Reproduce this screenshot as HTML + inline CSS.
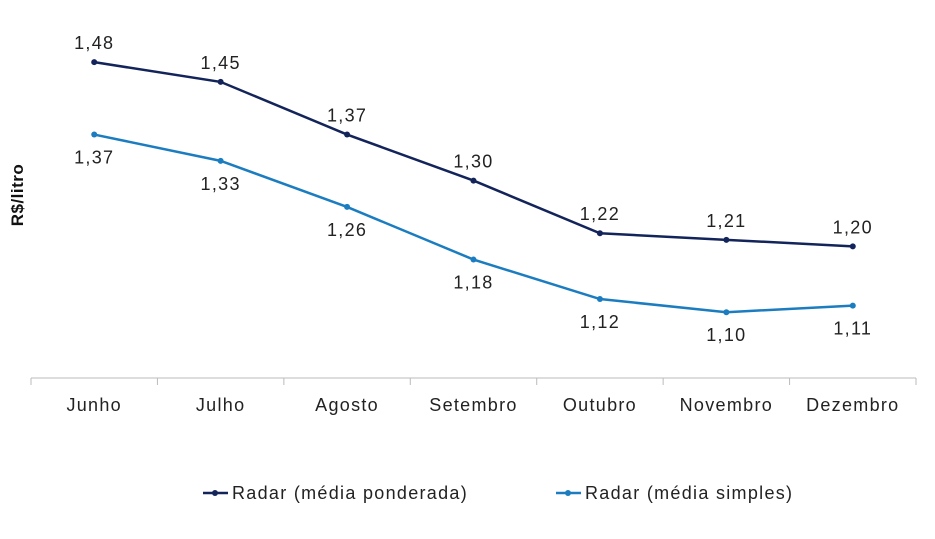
<!DOCTYPE html>
<html><head><meta charset="utf-8"><style>
html,body{margin:0;padding:0;background:#fff;}
svg{display:block;font-family:"Liberation Sans",sans-serif;}
svg text{letter-spacing:1.3px;}
</style></head><body>
<svg id="chart" width="935" height="539">
<text transform="translate(23,195) rotate(-90)" text-anchor="middle" font-size="17" font-weight="bold" fill="#111" style="letter-spacing:0.5px">R$/litro</text>
<g id="axis"></g><g id="series"></g>
<g>
<g>
<line x1="203" y1="493" x2="228" y2="493" stroke="#13245a" stroke-width="2.5"/><circle cx="215" cy="493" r="3" fill="#13245a"/>
<text x="232" y="499" font-size="18" fill="#222">Radar (média ponderada)</text></g>
<g>
<line x1="556" y1="493" x2="581" y2="493" stroke="#1b7dc0" stroke-width="2.5"/><circle cx="568" cy="493" r="3" fill="#1b7dc0"/>
<text x="585" y="499" font-size="18" fill="#222">Radar (média simples)</text></g>
</g>
</svg>
<script>
const categories=["Junho","Julho","Agosto","Setembro","Outubro","Novembro","Dezembro"];
const ponderada=[1.48,1.45,1.37,1.30,1.22,1.21,1.20];
const simples=[1.37,1.33,1.26,1.18,1.12,1.10,1.11];
const NS="http://www.w3.org/2000/svg";
const x0=31,x1=916,axisY=378;
const step=(x1-x0)/categories.length;
const xs=i=>x0+step*(i+0.5);
const ys=v=>axisY-(v-1.0)*658;
const fmt=v=>v.toFixed(2).replace('.',',');
function mk(t,a,p){const e=document.createElementNS(NS,t);for(const k in a)e.setAttribute(k,a[k]);p.appendChild(e);return e;}
const ax=document.getElementById('axis');
const al=mk('line',{x1:x0,y1:axisY,x2:x1,y2:axisY,stroke:'#bbb','stroke-width':1},ax);


for(let i=0;i<=categories.length;i++){
 const t=mk('line',{x1:x0+step*i,y1:axisY,x2:x0+step*i,y2:axisY+7,stroke:'#bbb'},ax);
 
 
}
categories.forEach((c,i)=>{
 const t=mk('text',{x:xs(i),y:411,'text-anchor':'middle','font-size':18,fill:'#222'},ax);
 t.textContent=c;
 
 
});
const sg=document.getElementById('series');
function draw(data,color,name,above){
 const g=mk('g',{},sg);
 
 
 const pl=mk('polyline',{points:data.map((v,i)=>xs(i)+','+ys(v)).join(' '),fill:'none',stroke:color,'stroke-width':2.5},g);
 
 
 data.forEach((v,i)=>{
  const c=mk('circle',{cx:xs(i),cy:ys(v),r:3,fill:color},g);
  
  
  const t=mk('text',{x:xs(i),y:ys(v)+(above?-13:29),'text-anchor':'middle','font-size':18,fill:'#222'},g);
  t.textContent=fmt(v);
  
  
 });
}
draw(ponderada,'#13245a','series-ponderada',true);
draw(simples,'#1b7dc0','series-simples',false);
</script>
</body></html>
